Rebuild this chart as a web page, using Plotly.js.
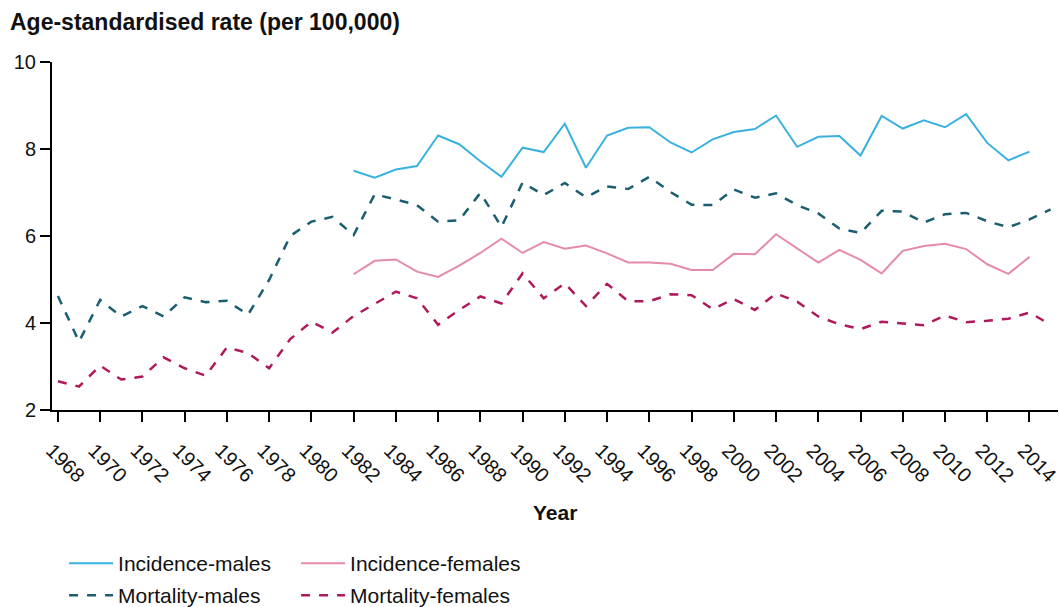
<!DOCTYPE html>
<html>
<head>
<meta charset="utf-8">
<script src="https://cdn.plot.ly/plotly-3.0.1.min.js"></script>
<style>html,body{margin:0;padding:0;background:#fff;}#chart{width:1060px;height:607px;}</style>
</head>
<body>
<div id="chart"></div>
<script>
// Years
const yearsEarly = [1968,1969,1970,1971,1972,1973,1974,1975,1976,1977,1978,1979,1980,1981,1982,1983,1984,1985,1986,1987,1988,1989,1990,1991,1992,1993,1994,1995,1996,1997,1998,1999,2000,2001,2002,2003,2004,2005,2006,2007,2008,2009,2010,2011,2012,2013,2014,2015];
const yearsIncidence = [1982,1983,1984,1985,1986,1987,1988,1989,1990,1991,1992,1993,1994,1995,1996,1997,1998,1999,2000,2001,2002,2003,2004,2005,2006,2007,2008,2009,2010,2011,2012,2013,2014];

// Series values (age-standardised rate per 100,000)
const incidenceMales = [7.50,7.34,7.53,7.61,8.31,8.11,7.72,7.36,8.03,7.93,8.58,7.57,8.31,8.49,8.50,8.15,7.92,8.22,8.39,8.46,8.77,8.05,8.28,8.30,7.85,8.76,8.47,8.66,8.50,8.80,8.14,7.74,7.94];
const incidenceFemales = [5.12,5.43,5.46,5.18,5.06,5.32,5.61,5.94,5.61,5.86,5.71,5.78,5.60,5.39,5.39,5.36,5.22,5.22,5.59,5.58,6.04,5.72,5.39,5.68,5.45,5.14,5.66,5.77,5.82,5.70,5.35,5.13,5.52];
const mortalityMales = [4.62,3.57,4.53,4.15,4.39,4.15,4.59,4.48,4.51,4.19,4.99,6.00,6.33,6.44,6.02,6.96,6.84,6.71,6.33,6.36,6.99,6.21,7.23,6.94,7.22,6.89,7.14,7.08,7.36,7.01,6.72,6.71,7.07,6.88,6.98,6.71,6.52,6.17,6.07,6.58,6.56,6.31,6.50,6.53,6.34,6.20,6.38,6.61];
const mortalityFemales = [2.66,2.54,3.02,2.70,2.77,3.21,2.96,2.79,3.44,3.31,2.96,3.63,4.03,3.78,4.16,4.45,4.72,4.57,3.96,4.30,4.61,4.45,5.14,4.57,4.91,4.39,4.90,4.50,4.50,4.66,4.64,4.32,4.55,4.30,4.68,4.49,4.15,3.97,3.86,4.03,3.99,3.95,4.17,4.02,4.05,4.10,4.24,3.96];

// Tick labels
const xTickVals = [1968,1970,1972,1974,1976,1978,1980,1982,1984,1986,1988,1990,1992,1994,1996,1998,2000,2002,2004,2006,2008,2010,2012,2014];
const xTickText = xTickVals.map(String);
const yTickVals = [2,4,6,8,10];

const FONT = '"Liberation Sans", Arial, sans-serif';

const traces = [
  {x: yearsIncidence, y: incidenceMales, name: 'Incidence-males', mode: 'lines', legend: 'legend',
   line: {color: '#3AB2DF', width: 2}},
  {x: yearsIncidence, y: incidenceFemales, name: 'Incidence-females', mode: 'lines', legend: 'legend',
   line: {color: '#E68AAB', width: 2}},
  {x: yearsEarly, y: mortalityMales, name: 'Mortality-males', mode: 'lines', legend: 'legend2',
   line: {color: '#1B5E72', width: 2.5, dash: 'dash'}},
  {x: yearsEarly, y: mortalityFemales, name: 'Mortality-females', mode: 'lines', legend: 'legend2',
   line: {color: '#B0195A', width: 2.5, dash: 'dash'}}
];

const legendCommon = {
  orientation: 'h', xanchor: 'left', yanchor: 'top', xref: 'paper', yref: 'container',
  font: {family: FONT, size: 21, color: '#111'},
  bgcolor: 'rgba(0,0,0,0)', itemwidth: 44, entrywidth: 173, entrywidthmode: 'pixels',
  traceorder: 'normal'
};

const layout = {
  width: 1060, height: 607,
  margin: {l: 52, r: 2, t: 62, b: 197, autoexpand: false},
  paper_bgcolor: '#fff', plot_bgcolor: '#fff',
  font: {family: FONT, size: 20, color: '#111'},
  showlegend: true,
  title: {
    text: '<b>Age-standardised rate (per 100,000)</b>',
    font: {family: FONT, size: 23, color: '#111'},
    x: 10/1060, xref: 'container', xanchor: 'left',
    y: 1 - 22/607, yref: 'container', yanchor: 'middle'
  },
  xaxis: {
    range: [1967.72, 2015.35],
    tickvals: xTickVals, ticktext: xTickText, tickangle: 45,
    ticklabeloverflow: 'allow', ticklabelshift: -6, ticklabelstandoff: 9,
    showline: true, linecolor: '#000', linewidth: 2,
    ticks: 'outside', ticklen: 10, tickwidth: 2, tickcolor: '#000',
    showgrid: false, zeroline: false,
    tickfont: {family: FONT, size: 20, color: '#111'}
  },
  yaxis: {
    range: [2, 10],
    tickvals: yTickVals,
    showline: true, linecolor: '#000', linewidth: 2,
    ticks: 'outside', ticklen: 10, tickwidth: 2, tickcolor: '#000',
    showgrid: false, zeroline: false,
    tickfont: {family: FONT, size: 20, color: '#111'}
  },
  annotations: [{
    text: '<b>Year</b>', showarrow: false,
    xref: 'paper', x: 0.5, xanchor: 'center',
    yref: 'paper', y: -(512.5 - 410) / 348, yanchor: 'middle',
    font: {family: FONT, size: 21, color: '#111'}
  }],
  legend: Object.assign({}, legendCommon, {x: 0.012, y: 1 - 543/607}),
  legend2: Object.assign({}, legendCommon, {x: 0.012, y: 1 - 575/607})
};

Plotly.newPlot('chart', traces, layout, {displayModeBar: false, staticPlot: true});
</script>
</body>
</html>
